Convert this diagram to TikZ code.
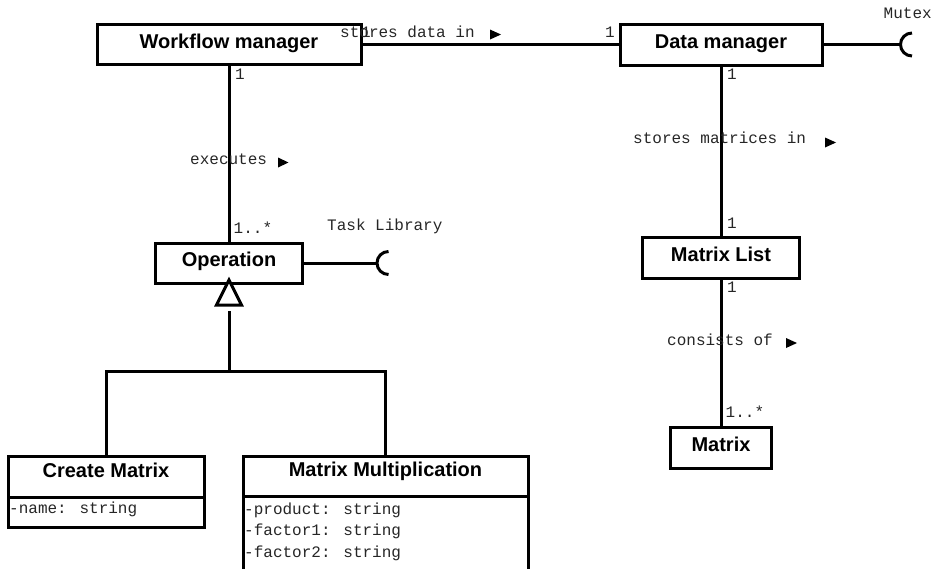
\documentclass[tikz,border=0pt]{standalone}
\usepackage{fontspec}
\setmainfont{Liberation Sans}
\newfontfamily\monof{Liberation Mono}
\begin{document}
\begin{tikzpicture}[x=1pt,y=-1pt,
  box/.style={draw, line width=3pt, rectangle, inner sep=0pt, outer sep=0pt,
    font=\bfseries\fontsize{20}{22}\selectfont, text height=14pt, text depth=7pt},
  hdr/.style={box, text height=14pt, text depth=13pt},
  attrbox/.style={draw, line width=3pt, rectangle, inner sep=0pt, outer sep=0pt},
  lbl/.style={inner sep=0pt, text=black!85, font=\monof\fontsize{16}{18}\selectfont},
  conn/.style={line width=3pt},
  dirtri/.style={fill=black},
  ]
\useasboundingbox (0,0) rectangle (935,568);
\clip (0,0) rectangle (935,568);

% class boxes
\node[box, minimum width=264pt, minimum height=40pt] (wm) at (229,44.5) {Workflow manager};
\node[box, minimum width=202pt, minimum height=41pt] (dm) at (721,44.5) {Data manager};
\node[box, minimum width=147pt, minimum height=40pt] (op) at (229,263) {Operation};
\node[box, minimum width=157pt, minimum height=41pt] (ml) at (721,257.5) {Matrix List};
\node[box, minimum width=101pt, minimum height=41pt] (mx) at (721,447.5) {Matrix};

\node[hdr, minimum width=196pt, minimum height=41pt] (cm) at (106,476.5) {Create Matrix};
\node[attrbox, minimum width=196pt, minimum height=30pt] (cma) at (106,512) {};
\node[hdr, minimum width=285pt, minimum height=40pt] (mm) at (385.5,476) {Matrix Multiplication};
\node[attrbox, minimum width=285pt, minimum height=90pt] (mma) at (385.5,541) {};

\node[lbl, anchor=base west] (cmn) at (9,513) {-name: string};
\node[lbl, anchor=base west] (mmp) at (244,514) {-product: string};
\node[lbl, anchor=base west] (mmf1) at (244,535.5) {-factor1: string};
\node[lbl, anchor=base west] (mmf2) at (244,557) {-factor2: string};

% associations
\draw[conn] (wm.east) -- (dm.west);
\draw[conn] (wm.south) -- (op.north);
\draw[conn] (dm.south) -- (ml.north);
\draw[conn] (ml.south) -- (mx.north);

% required interfaces
\coordinate (mxs) at (900.5,44.5);
\draw[conn] (dm.east) -- (mxs);
\draw[conn] (mxs) arc[start angle=180, end angle=90, radius=11.5]
            (mxs) arc[start angle=180, end angle=270, radius=11.5];
\coordinate (tls) at (377,263);
\draw[conn] (op.east) -- (tls);
\draw[conn] (tls) arc[start angle=180, end angle=90, radius=11.5]
            (tls) arc[start angle=180, end angle=270, radius=11.5];

% generalization
\coordinate (gb) at (229,311);
\coordinate (gj) at (229,371);
\draw[conn] (gb) -- (gj);
\draw[conn] (cm.north) |- (gj) -| (mm.north);
\draw[conn, fill=white, line join=miter] ([yshift=3pt]op.south) -- ++(-12.5,25) -- ++(25,0) -- cycle;

% labels
\node[lbl, anchor=base west] (sdi) at (340,37) {stores data in};
\fill[dirtri] (490,29.5) -- (501,34.5) -- (490,39.5) -- cycle;
\node[lbl, anchor=base] (m1) at (366,37) {1};
\node[lbl, anchor=base] (m2) at (610,37) {1};
\node[lbl, anchor=base] (m3) at (240,79) {1};
\node[lbl, anchor=base] (m4) at (732,79) {1};
\node[lbl, anchor=base west] (mut) at (883.5,18) {Mutex};

\node[lbl, anchor=base west] (exe) at (190,164) {executes};
\fill[dirtri] (278,157.5) -- (288.5,162.5) -- (278,167.5) -- cycle;
\node[lbl, anchor=base west] (m5) at (233.5,233) {1..*};
\node[lbl, anchor=base west] (tl) at (327,230) {Task Library};

\node[lbl, anchor=base west] (smi) at (633,143) {stores matrices in};
\fill[dirtri] (825,137.5) -- (836,142.5) -- (825,147.5) -- cycle;
\node[lbl, anchor=base] (m6) at (732,228) {1};
\node[lbl, anchor=base] (m7) at (732,292) {1};
\node[lbl, anchor=base west] (cof) at (667,345) {consists of};
\fill[dirtri] (786,338) -- (797,343) -- (786,348) -- cycle;
\node[lbl, anchor=base west] (m8) at (725.5,417) {1..*};
\end{tikzpicture}
\end{document}
